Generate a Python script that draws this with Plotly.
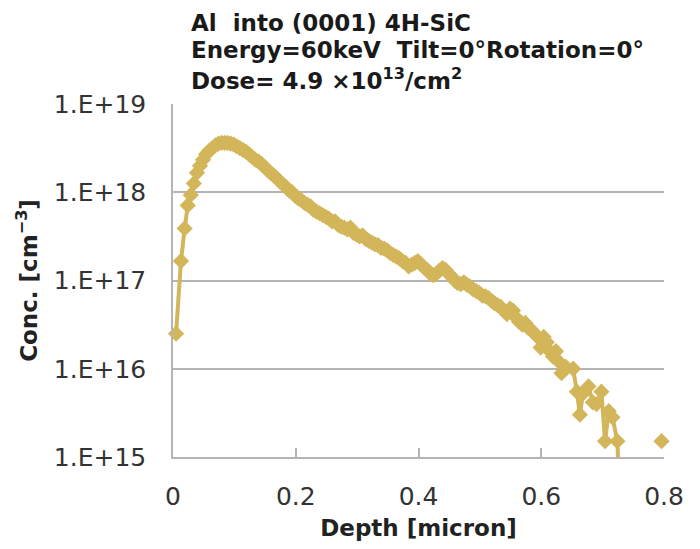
import plotly.graph_objects as go

# Depth (micron)
depth = [
    0.005, 0.013, 0.019, 0.024, 0.029, 0.034, 0.039, 0.044, 0.049, 0.054,
    0.059, 0.064, 0.069, 0.074, 0.079, 0.084, 0.089, 0.094, 0.099, 0.104,
    0.109, 0.114, 0.119, 0.124, 0.129, 0.134, 0.139, 0.144, 0.149, 0.154,
    0.159, 0.164, 0.169, 0.174, 0.179, 0.184, 0.189, 0.194, 0.199, 0.204,
    0.209, 0.214, 0.219, 0.224, 0.229, 0.234, 0.239, 0.244, 0.249, 0.254,
    0.259, 0.264, 0.269, 0.274, 0.279, 0.284, 0.289, 0.294, 0.299, 0.304,
    0.309, 0.314, 0.319, 0.324, 0.329, 0.334, 0.339, 0.344, 0.349, 0.354,
    0.359, 0.364, 0.369, 0.374, 0.379, 0.384, 0.389, 0.394, 0.399, 0.404,
    0.409, 0.414, 0.419, 0.424, 0.429, 0.434, 0.439, 0.444, 0.449, 0.454,
    0.459, 0.464, 0.469, 0.474, 0.479, 0.484, 0.489, 0.494, 0.499, 0.504,
    0.509, 0.514, 0.519, 0.524, 0.529, 0.534, 0.539, 0.544, 0.549, 0.554,
    0.559, 0.564, 0.569, 0.574, 0.579, 0.584, 0.589, 0.594, 0.599, 0.604,
    0.609, 0.614, 0.619, 0.624, 0.629, 0.633, 0.640, 0.652, 0.658, 0.663,
    0.668, 0.677, 0.684, 0.690, 0.698, 0.704, 0.710, 0.716, 0.724, 0.728,
    None, 0.796,
]

# Concentration (cm^-3)
conc = [
    2.5e16, 1.66e17, 3.89e17, 7.08e17, 9.33e17, 1.26e18, 1.66e18, 2.0e18, 2.34e18, 2.69e18,
    2.95e18, 3.16e18, 3.39e18, 3.55e18, 3.63e18, 3.63e18, 3.63e18, 3.55e18, 3.47e18, 3.31e18,
    3.16e18, 3.02e18, 2.88e18, 2.69e18, 2.51e18, 2.34e18, 2.24e18, 2.09e18, 1.95e18, 1.78e18,
    1.66e18, 1.55e18, 1.45e18, 1.32e18, 1.23e18, 1.15e18, 1.05e18, 1.0e18, 9.12e17, 8.51e17,
    8.13e17, 7.59e17, 7.24e17, 6.92e17, 6.31e17, 6.03e17, 5.75e17, 5.50e17, 5.25e17, 5.01e17,
    4.68e17, 4.68e17, 4.27e17, 4.07e17, 3.98e17, 3.80e17, 3.98e17, 3.47e17, 3.31e17, 3.16e17,
    3.24e17, 2.95e17, 2.82e17, 2.69e17, 2.57e17, 2.51e17, 2.34e17, 2.29e17, 2.19e17, 2.04e17,
    1.95e17, 1.86e17, 1.78e17, 1.66e17, 1.58e17, 1.45e17, 1.51e17, 1.58e17, 1.66e17, 1.51e17,
    1.41e17, 1.32e17, 1.20e17, 1.15e17, 1.20e17, 1.29e17, 1.38e17, 1.32e17, 1.20e17, 1.10e17,
    1.0e17, 9.33e16, 9.12e16, 9.55e16, 8.91e16, 8.51e16, 7.94e16, 7.59e16, 7.24e16, 6.76e16,
    6.61e16, 6.31e16, 5.89e16, 5.50e16, 5.25e16, 5.01e16, 4.57e16, 4.17e16, 4.79e16, 4.57e16,
    3.80e16, 3.39e16, 3.16e16, 3.31e16, 2.88e16, 2.75e16, 2.51e16, 2.29e16, 1.74e16, 2.29e16,
    2.0e16, 1.58e16, 1.38e16, 1.58e16, 1.20e16, 8.91e15, 1.05e16, 1.0e16, 5.50e15, 3.02e15,
    5.25e15, 6.31e15, 4.17e15, 3.98e15, 5.50e15, 1.51e15, 3.31e15, 2.82e15, 1.51e15, 3.2e14,
    None, 1.51e15,
]

y_tick_vals = [1e15, 1e16, 1e17, 1e18, 1e19]
y_tick_text = ["1.E+15", "1.E+16", "1.E+17", "1.E+18", "1.E+19"]
x_tick_vals = [0, 0.2, 0.4, 0.6, 0.8]
x_tick_text = ["0", "0.2", "0.4", "0.6", "0.8"]

title_lines = [
    "Al  into (0001) 4H-SiC",
    "Energy=60keV  Tilt=0°Rotation=0°",
    "Dose= 4.9 ×10<sup>13</sup>/cm<sup>2</sup>",
]

COLOR = "#D3B55A"
GRID = "#B4B4B4"
FONT = "DejaVu Sans"

# plot area in page pixels
PL, PT, PR, PB = 173, 104, 664, 457
W, H = 700, 549

# markers only for points within the visible range
y_min = 1e15
mk_conc = [c if (c is not None and c >= y_min) else None for c in conc]

fig = go.Figure()
fig.add_trace(go.Scatter(
    x=depth, y=conc, mode="lines",
    line=dict(color=COLOR, width=4),
    connectgaps=False, cliponaxis=True, showlegend=False, hoverinfo="skip",
))
fig.add_trace(go.Scatter(
    x=depth, y=mk_conc, mode="markers",
    marker=dict(symbol="diamond", size=12.5, color=COLOR, line=dict(width=0)),
    cliponaxis=False, showlegend=False,
))

title_centers = [23, 50, 79]
annotations = []
for line, cy in zip(title_lines, title_centers):
    annotations.append(dict(
        text="<b>" + line + "</b>",
        xref="paper", yref="paper",
        x=(189 - PL) / (PR - PL), y=(PB - cy) / (PB - PT),
        xanchor="left", yanchor="middle", align="left", showarrow=False,
        font=dict(family=FONT, size=23, color="#1a1a1a"),
    ))

fig.update_layout(
    width=W, height=H,
    margin=dict(l=PL, r=W - PR, t=PT, b=H - PB),
    paper_bgcolor="white", plot_bgcolor="white",
    font=dict(family=FONT, size=25, color="#333333"),
    xaxis=dict(
        range=[0, 0.8], tickvals=x_tick_vals, ticktext=x_tick_text,
        showgrid=False, zeroline=False, automargin=False,
        showline=True, linecolor=GRID, linewidth=1.5,
        ticks="inside", ticklen=9, tickcolor=GRID, tickwidth=1.5,
        ticklabelstandoff=16,
        title=dict(text="<b>Depth [micron]</b>", font=dict(size=23, color="#222222"), standoff=10),
    ),
    yaxis=dict(
        type="log", range=[15, 19], tickvals=y_tick_vals, ticktext=y_tick_text,
        showgrid=True, gridcolor=GRID, gridwidth=1.5, automargin=False,
        zeroline=False, showline=True, linecolor=GRID, linewidth=1.5,
        ticks="", ticklabelstandoff=20,
        title=dict(text="<b>Conc. [cm<sup>−3</sup>]</b>", font=dict(size=23, color="#222222"), standoff=10),
    ),
    annotations=annotations,
)

fig.write_html(
    "out.html",
    config={"displayModeBar": False},
    post_script="document.body.style.margin='0';document.body.style.padding='0';",
)
